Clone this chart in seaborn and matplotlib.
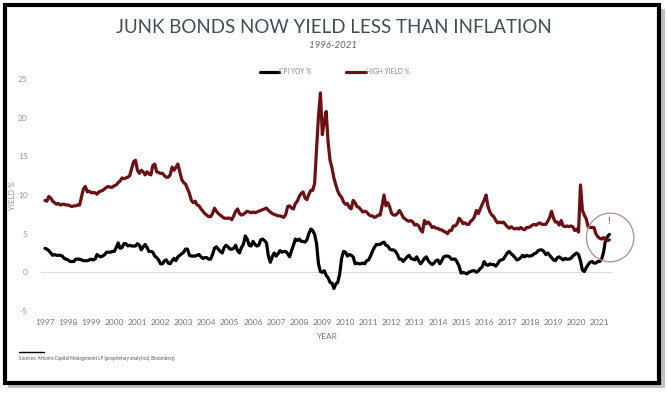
import numpy as np
import pandas as pd
import seaborn as sns
import matplotlib.pyplot as plt
from matplotlib.patches import Rectangle, Ellipse

# monthly values, Jan 1997 - Jun 2021
cpi_yoy = [
    3.1, 3.0, 2.8, 2.5, 2.2, 2.3, 2.2, 2.2, 2.2, 2.1, 1.8, 1.7,   # 1997
    1.6, 1.4, 1.4, 1.4, 1.7, 1.7, 1.7, 1.6, 1.5, 1.5, 1.5, 1.6,   # 1998
    1.7, 1.6, 1.7, 2.3, 2.1, 2.0, 2.1, 2.3, 2.6, 2.6, 2.6, 2.7,   # 1999
    2.7, 3.2, 3.8, 3.1, 3.2, 3.7, 3.7, 3.4, 3.5, 3.4, 3.4, 3.4,   # 2000
    3.7, 3.5, 2.9, 3.3, 3.6, 3.2, 2.7, 2.7, 2.6, 2.1, 1.9, 1.6,   # 2001
    1.1, 1.1, 1.5, 1.6, 1.2, 1.1, 1.5, 1.8, 1.5, 2.0, 2.2, 2.4,   # 2002
    2.6, 3.0, 3.0, 2.2, 2.1, 2.1, 2.1, 2.2, 2.3, 2.0, 1.8, 1.9,   # 2003
    1.9, 1.7, 1.7, 2.3, 3.1, 3.3, 3.0, 2.7, 2.5, 3.2, 3.5, 3.3,   # 2004
    3.0, 3.0, 3.1, 3.5, 2.8, 2.5, 3.2, 3.6, 4.7, 4.3, 3.5, 3.4,   # 2005
    4.0, 3.6, 3.4, 3.5, 4.2, 4.3, 4.1, 3.8, 2.1, 1.3, 2.0, 2.5,   # 2006
    2.1, 2.4, 2.8, 2.6, 2.7, 2.7, 2.4, 2.0, 2.8, 3.5, 4.3, 4.1,   # 2007
    4.3, 4.0, 4.0, 3.9, 4.2, 5.0, 5.6, 5.4, 4.9, 3.7, 1.1, 0.1,   # 2008
    0.0, 0.2, -0.4, -0.7, -1.3, -1.4, -2.1, -1.5, -1.3, -0.2, 1.8, 2.7,  # 2009
    2.6, 2.1, 2.3, 2.2, 2.0, 1.1, 1.2, 1.1, 1.1, 1.2, 1.1, 1.5,   # 2010
    1.6, 2.1, 2.7, 3.2, 3.6, 3.6, 3.6, 3.8, 3.9, 3.5, 3.4, 3.0,   # 2011
    2.9, 2.9, 2.7, 2.3, 1.7, 1.7, 1.4, 1.7, 2.0, 2.2, 1.8, 1.7,   # 2012
    1.6, 2.0, 1.5, 1.1, 1.4, 1.8, 2.0, 1.5, 1.2, 1.0, 1.2, 1.5,   # 2013
    1.6, 1.1, 1.5, 2.0, 2.1, 2.1, 2.0, 1.7, 1.7, 1.7, 1.3, 0.8,   # 2014
    -0.1, 0.0, -0.1, -0.2, 0.0, 0.1, 0.2, 0.2, 0.0, 0.2, 0.5, 0.7,  # 2015
    1.4, 1.0, 0.9, 1.1, 1.0, 1.0, 0.8, 1.1, 1.5, 1.6, 1.7, 2.1,   # 2016
    2.5, 2.7, 2.4, 2.2, 1.9, 1.6, 1.7, 1.9, 2.2, 2.0, 2.2, 2.1,   # 2017
    2.1, 2.2, 2.4, 2.5, 2.8, 2.9, 2.9, 2.7, 2.3, 2.5, 2.2, 1.9,   # 2018
    1.6, 1.5, 1.9, 2.0, 1.8, 1.6, 1.8, 1.7, 1.7, 1.8, 2.1, 2.3,   # 2019
    2.5, 2.3, 1.5, 0.3, 0.1, 0.6, 1.0, 1.3, 1.4, 1.2, 1.2, 1.4,   # 2020
    1.4, 1.7, 2.6, 4.2, 4.6, 4.9,                                 # 2021
]

high_yield = [
    9.3, 9.2, 9.8, 9.6, 9.2, 9.0, 8.8, 8.9, 8.7, 8.8, 8.8, 8.7,   # 1997
    8.7, 8.6, 8.5, 8.6, 8.6, 8.7, 8.7, 9.8, 10.8, 11.1, 10.4, 10.5,  # 1998
    10.3, 10.3, 10.3, 10.1, 10.4, 10.5, 10.6, 10.8, 11.0, 11.1, 11.0, 11.0,  # 1999
    11.2, 11.3, 11.6, 11.8, 12.2, 12.1, 12.2, 12.3, 12.5, 13.4, 14.3, 14.5,  # 2000
    13.2, 12.8, 13.2, 13.0, 12.6, 13.0, 12.7, 12.6, 13.8, 14.0, 13.0, 12.9,  # 2001
    12.8, 12.8, 12.5, 12.3, 12.3, 12.6, 13.6, 13.2, 13.6, 14.0, 13.0, 12.0,  # 2002
    11.6, 11.4, 10.8, 10.2, 9.3, 9.0, 9.2, 8.7, 8.6, 8.2, 7.9, 7.6,  # 2003
    7.4, 7.2, 7.2, 7.6, 8.3, 7.9, 7.6, 7.4, 7.2, 7.0, 7.0, 7.0,   # 2004
    7.0, 6.8, 7.3, 7.9, 8.2, 7.6, 7.4, 7.5, 7.7, 7.9, 7.8, 7.7,   # 2005
    7.8, 7.7, 7.8, 7.9, 8.0, 8.1, 8.2, 8.3, 8.0, 7.8, 7.6, 7.5,   # 2006
    7.4, 7.3, 7.3, 7.2, 7.1, 7.5, 8.5, 8.6, 8.3, 8.2, 8.9, 9.2,   # 2007
    9.8, 10.2, 10.4, 9.6, 9.4, 10.1, 10.6, 10.6, 11.5, 16.0, 20.2, 23.2,  # 2008
    17.8, 19.5, 20.8, 16.8, 14.5, 13.5, 12.2, 11.3, 10.5, 10.0, 9.7, 9.1,  # 2009
    8.8, 8.9, 8.4, 8.2, 9.3, 9.0, 8.5, 8.4, 8.1, 7.8, 7.9, 7.8,   # 2010
    7.5, 7.3, 7.3, 7.1, 7.2, 7.4, 7.4, 8.6, 10.0, 8.6, 9.0, 8.4,  # 2011
    7.6, 7.4, 7.4, 7.6, 8.0, 7.6, 7.1, 6.9, 6.7, 6.6, 6.7, 6.5,   # 2012
    6.1, 6.2, 6.0, 5.5, 5.2, 6.7, 6.3, 6.5, 6.2, 5.8, 5.9, 5.7,   # 2013
    5.7, 5.5, 5.5, 5.3, 5.2, 5.0, 5.4, 5.4, 6.0, 6.0, 6.3, 7.0,   # 2014
    6.7, 6.3, 6.4, 6.2, 6.2, 6.6, 6.8, 7.2, 8.0, 7.6, 8.2, 8.8,   # 2015
    9.3, 10.0, 8.5, 7.8, 7.4, 7.2, 6.7, 6.4, 6.5, 6.4, 6.5, 6.2,  # 2016
    5.9, 5.7, 5.9, 5.7, 5.6, 5.7, 5.6, 5.8, 5.6, 5.5, 5.8, 5.8,   # 2017
    5.9, 6.1, 6.2, 6.1, 6.3, 6.4, 6.2, 6.2, 6.2, 6.6, 7.1, 7.9,   # 2018
    7.0, 6.5, 6.5, 6.1, 6.7, 6.0, 5.9, 6.0, 5.9, 6.0, 5.9, 5.4,   # 2019
    5.6, 5.2, 11.3, 8.0, 7.4, 6.9, 5.9, 5.8, 5.8, 5.8, 5.0, 4.6,  # 2020
    4.4, 4.3, 4.5, 4.2, 4.1, 4.2,                                 # 2021
]

first_year = 1997
year_ticks = list(range(1997, 2022))

x = first_year + np.arange(len(cpi_yoy)) / 12
df = pd.DataFrame({'year': np.concatenate([x, x]),
                   'valor': cpi_yoy + high_yield,
                   'serie': ['CPI YOY %'] * len(cpi_yoy) + ['HIGH YIELD %'] * len(high_yield)})

sns.set_theme(style='white')
plt.rcParams['font.family'] = ['Lato', 'DejaVu Sans']

fig = plt.figure(figsize=(6.67, 3.93), dpi=100)
ax = fig.add_axes([0.0622, 0.2087, 0.856, 0.5903])

cores = {'CPI YOY %': '#000000', 'HIGH YIELD %': '#6e0f13'}
sns.lineplot(data=df, x='year', y='valor', hue='serie', palette=cores,
             linewidth=2.3, ax=ax, legend=False)

ax.axhline(0, color='#dcdcdc', lw=0.8, zorder=0)
ax.set_xlim(1996.85, 2021.55)
ax.set_ylim(-5, 25)
ax.set_xticks(year_ticks)
ax.set_xticklabels([str(a) for a in year_ticks], fontsize=6, color='#777777')
ax.set_yticks([-5, 0, 5, 10, 15, 20, 25])
ax.set_yticklabels(['-5', '0', '5', '10', '15', '20', '25'], fontsize=6, color='#999999')
ax.tick_params(axis='x', length=0, pad=6)
ax.tick_params(axis='y', length=0, pad=10)
for s in ax.spines.values():
    s.set_visible(False)
ax.set_xlabel('YEAR', fontsize=6, color='#777777', labelpad=5)
ax.set_ylabel('YIELD %', fontsize=5.5, color='#999999', labelpad=0)
ax.yaxis.set_label_coords(-0.044, 0.5)

# circulo de destaque no fim
circ = Ellipse((2021.45, 4.5), width=2.05, height=6.3, fill=False,
               edgecolor='#b58a8a', lw=0.9, zorder=5, clip_on=False)
ax.add_patch(circ)
ax.text(2021.4, 6.6, '!', fontsize=7, color='#333333', ha='center', va='center')

# legenda manual
fig.add_artist(plt.Line2D([0.39, 0.418], [0.817, 0.817], color='black', lw=2.3))
fig.text(0.418, 0.817, 'CPI YOY %', fontsize=4.8, color='#888888', va='center')
fig.add_artist(plt.Line2D([0.518, 0.548], [0.817, 0.817], color='#6e0f13', lw=2.3))
fig.text(0.548, 0.817, 'HIGH YIELD %', fontsize=4.8, color='#888888', va='center')

fig.text(0.5, 0.93, 'JUNK BONDS NOW YIELD LESS THAN INFLATION', ha='center', va='center',
         fontsize=13.5, color='#3f4f58', fontweight='normal')
fig.text(0.5, 0.885, '1996-2021', ha='center', va='center', fontsize=7,
         color='#666666', style='italic')

fig.add_artist(plt.Line2D([0.028, 0.066], [0.105, 0.105], color='black', lw=1))
fig.text(0.028, 0.088, 'Sources: Artemis Capital Management LP (proprietary analytics), Bloomberg.',
         fontsize=3.3, color='#555555', va='center')

# moldura com sombra
fig.add_artist(Rectangle((0.012, 0.012), 0.985, 0.965, transform=fig.transFigure,
                         facecolor='#9a9a9a', edgecolor='none', zorder=-2, alpha=0.6))
fig.add_artist(Rectangle((0.008, 0.025), 0.98, 0.962, transform=fig.transFigure,
                         facecolor='none', edgecolor='black', lw=3, zorder=5))
fig.patches.insert(0, Rectangle((0.008, 0.025), 0.98, 0.962, transform=fig.transFigure,
                                facecolor='white', edgecolor='none', zorder=-1))

plt.savefig('out.png', dpi=100)
